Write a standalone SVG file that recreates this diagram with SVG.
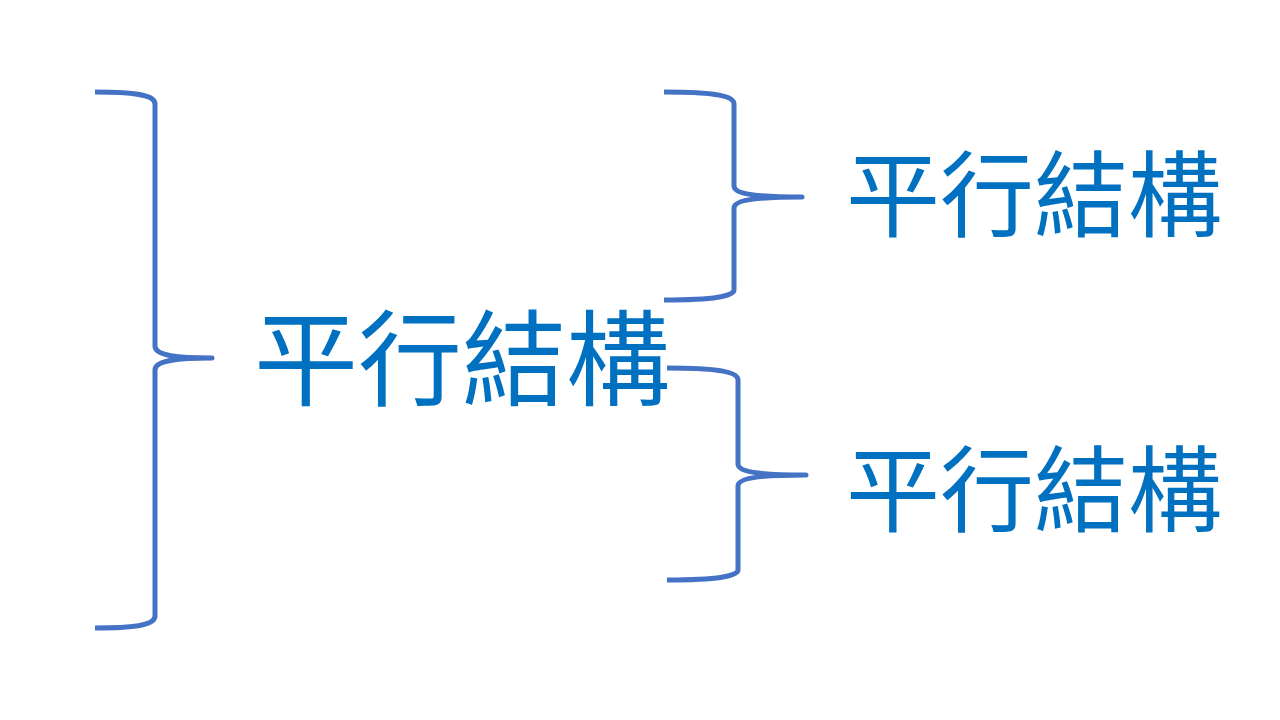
<svg xmlns="http://www.w3.org/2000/svg" width="1280" height="720" viewBox="0 0 1280 720">
<style>
.brace{fill:none;stroke:#4472C4;stroke-width:5;stroke-linejoin:round}
.lbl{font-family:"Noto Sans CJK TC","Noto Sans CJK SC",sans-serif;fill:#0070C0}
</style>
<rect width="1280" height="720" fill="#FFFFFF"/>
<g id="connectors">
<path class="brace" d="M95,92 C140,92 155,96 155,104 L155,346 C155,354 170,358 212,358 C170,358 155,362 155,370 L155,616 C155,624 140,628 95,628"/>
<path class="brace" d="M664,92 C715,92 734,96 734,104 L734,186 C734,193 750,197 802,197 C750,197 734,201 734,208 L734,290 C734,296 715,300 664,300"/>
<path class="brace" d="M667,368 C718,368 738,372 738,380 L738,464 C738,471 754,475 806,475 C754,475 738,479 738,486 L738,570 C738,576 718,580 667,580"/>
</g>
<g id="node-main"><text class="lbl" x="254" y="398" font-size="104">平行結構</text></g>
<g id="node-top"><text class="lbl" x="846" y="230" font-size="94">平行結構</text></g>
<g id="node-bottom"><text class="lbl" x="846" y="525" font-size="94">平行結構</text></g>
</svg>
